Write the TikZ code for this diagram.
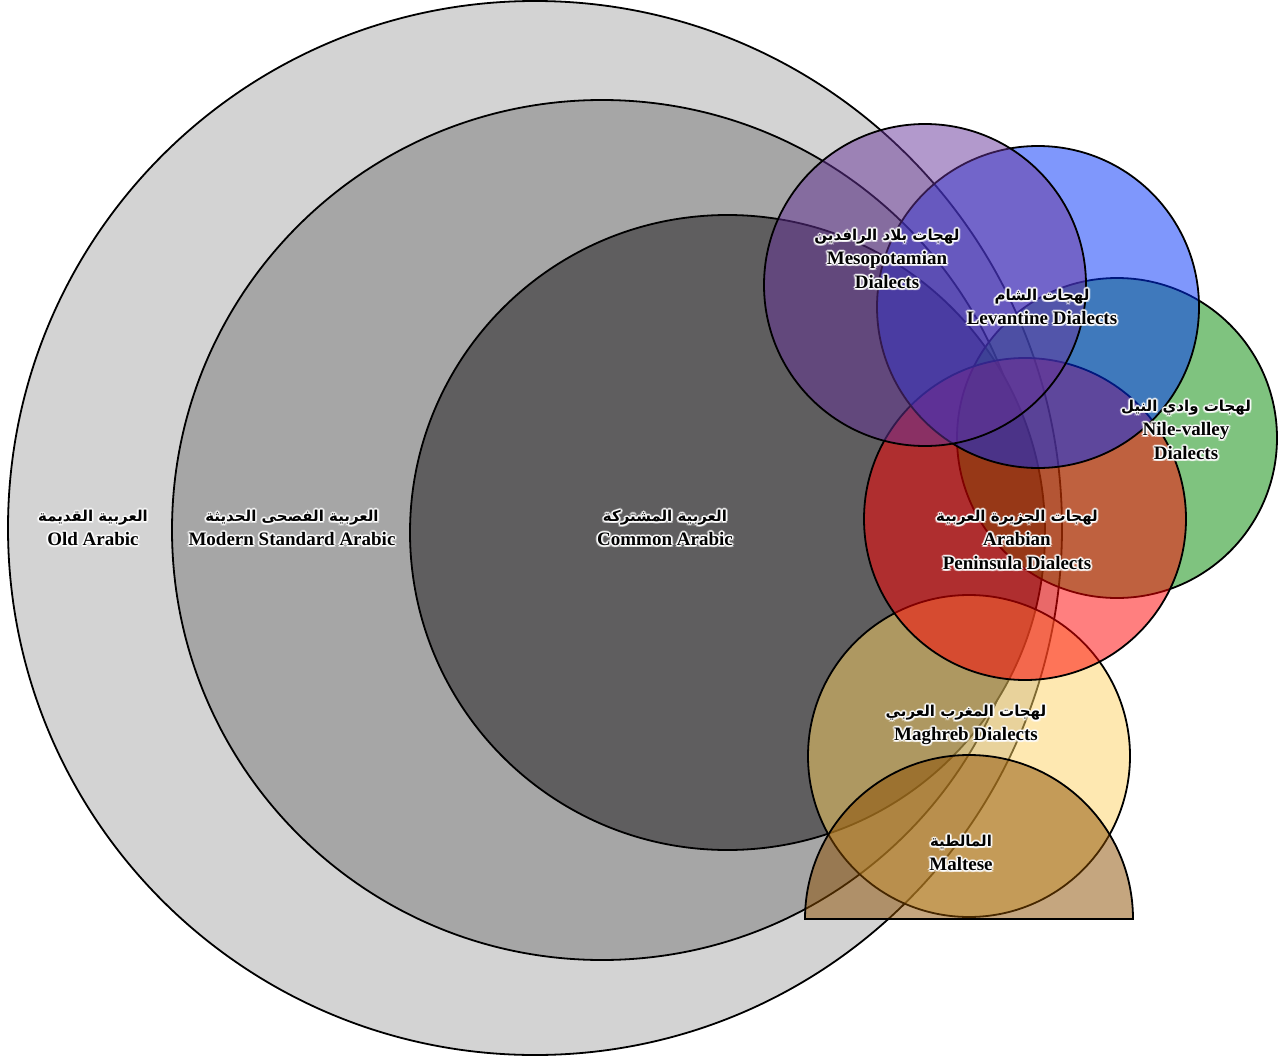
\documentclass[tikz,border=0pt]{standalone}
\usepackage{fontspec}
\setmainfont{Liberation Serif}
\newfontfamily\arabicfont[Script=Arabic]{DejaVu Sans}
\TeXXeTstate=1
\newif\ifglowpass
\newbox\glowbx
\newdimen\gda
\newdimen\gdb
\newcommand\glowcopy[2]{\rlap{\kern#1\raise#2\copy\glowbx}}
\newcommand\glow[1]{%
  \ifglowpass
    \setbox\glowbx=\hbox{#1}%
    \leavevmode
    \glowcopy{\gda}{0pt}\glowcopy{-\gda}{0pt}\glowcopy{0pt}{\gda}\glowcopy{0pt}{-\gda}%
    \glowcopy{\gdb}{\gdb}\glowcopy{-\gdb}{\gdb}\glowcopy{\gdb}{-\gdb}\glowcopy{-\gdb}{-\gdb}%
    \hbox to \wd\glowbx{\vrule width 0pt height\ht\glowbx depth\dp\glowbx\hfil}%
  \else
    #1%
  \fi}
\newcommand\artxt[1]{\glow{\arabicfont\bfseries\fontsize{15}{20}\selectfont\beginR #1\endR}}
\newcommand\entxt[1]{\glow{#1}}
\definecolor{oldgray}{RGB}{211,211,211}
\definecolor{msagray}{RGB}{166,166,166}
\definecolor{comgray}{RGB}{95,94,95}
\definecolor{mesoc}{RGB}{102,51,153}
\definecolor{levc}{RGB}{0,48,250}
\definecolor{nilec}{RGB}{0,135,0}
\definecolor{arabc}{RGB}{255,0,0}
\definecolor{maghc}{RGB}{253,210,100}
\definecolor{maltc}{RGB}{140,78,0}
\definecolor{txtblack}{RGB}{2,2,2}
\definecolor{halowhite}{RGB}{254,254,254}
\tikzset{
  ring/.style={draw=black, line width=1.8pt},
  dia/.style={draw=black, line width=1.8pt, fill opacity=0.5},
  lbl/.style={align=center, inner sep=0pt, font=\bfseries\fontsize{19}{24}\selectfont},
}
\newcommand\alllabels[1]{%
\node[lbl] (old#1) at (93,528) {\artxt{العربية القديمة}\\\entxt{Old Arabic}};
\node[lbl] (msa#1) at (292,528) {\artxt{العربية الفصحى الحديثة}\\\entxt{Modern Standard Arabic}};
\node[lbl] (com#1) at (665,528) {\artxt{العربية المشتركة}\\\entxt{Common Arabic}};
\node[lbl] (meso#1) at (887,259) {\artxt{لهجات بلاد الرافدين}\\\entxt{Mesopotamian}\\\entxt{Dialects}};
\node[lbl] (lev#1) at (1042,307) {\artxt{لهجات الشام}\\\entxt{Levantine Dialects}};
\node[lbl] (nile#1) at (1186,430) {\artxt{لهجات وادي النيل}\\\entxt{Nile-valley}\\\entxt{Dialects}};
\node[lbl] (arab#1) at (1017,540) {\artxt{لهجات الجزيرة العربية}\\\entxt{Arabian}\\\entxt{Peninsula Dialects}};
\node[lbl] (magh#1) at (966,725) {\artxt{لهجات المغرب العربي}\\\entxt{Maghreb Dialects}};
\node[lbl] (malt#1) at (961,853) {\artxt{المالطية}\\\entxt{Maltese}};
}
\begin{document}
\begin{tikzpicture}[x=1pt,y=-1pt]
\useasboundingbox (0,0) rectangle (1280,1057);
% opaque nested circles
\draw[ring, fill=oldgray] (535,528) circle[radius=527];
\draw[ring, fill=msagray] (602,530) circle[radius=430];
\draw[ring, fill=comgray] (727.5,532.5) circle[radius=317.5];
% dialect circles (translucent)
\draw[dia, fill=maghc] (969,756) circle[radius=161];
\draw[dia, fill=maltc] (805,919) arc[start angle=180, end angle=360, radius=164] -- cycle;
\draw[dia, fill=nilec] (1117,438) circle[radius=160];
\draw[dia, fill=arabc] (1025,519) circle[radius=161];
\draw[dia, fill=levc] (1038,307) circle[radius=161];
\draw[dia, fill=mesoc] (925,285) circle[radius=161];
% labels: soft outer halo, thin inner halo, then black text
\glowpasstrue
\gda=2.2pt \gdb=1.55pt
\begin{scope}[lbl/.append style={text=halowhite, text opacity=0.5}]
\alllabels{halo}
\end{scope}
\gda=1.0pt \gdb=0.7pt
\begin{scope}[lbl/.append style={text=halowhite, text opacity=1}]
\alllabels{glow}
\end{scope}
\glowpassfalse
\begin{scope}[lbl/.append style={text=txtblack, text opacity=1}]
\alllabels{}
\end{scope}
\end{tikzpicture}
\end{document}
